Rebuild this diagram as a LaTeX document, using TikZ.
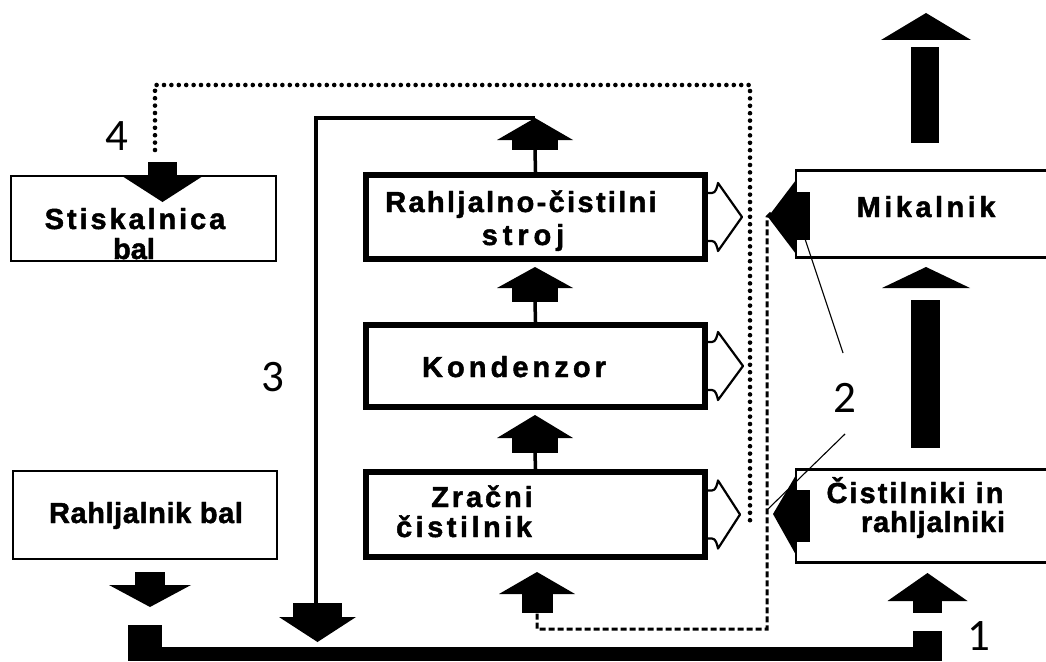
\documentclass[tikz,border=0pt]{standalone}
\usepackage{fontspec}
\setmainfont{Liberation Sans}[BoldFeatures={FakeBold=1.6}]
\newfontfamily\numfont{Carlito}
\newcommand\spaced[2]{{\addfontfeatures{LetterSpace=#1}#2}}
% up-pointing flow arrow: centre x, apex y, head half width, head base y, block half width, block bottom y
\newcommand\flowup[6]{%
  \fill (#1,#2) -- (#1+#3,#4) -- (#1-#3,#4) -- cycle;
  \fill (#1-#5,#4) rectangle (#1+#5,#6);}
% down-pointing flow arrow: centre x, block top y, block half width, head base y, head half width, apex y
\newcommand\flowdown[6]{%
  \fill (#1-#3,#2) rectangle (#1+#3,#4);
  \fill (#1-#5,#4) -- (#1+#5,#4) -- (#1,#6) -- cycle;}
% open outlet on the right side of a machine: centre y, tip x
\newcommand\outlet[2]{%
  \draw[outlet] (708,#1-24) -- (712,#1-24) .. controls (716,#1-24) and (717,#1-30) .. (718,#1-34)
    -- (#2,#1) -- (718,#1+34) .. controls (717,#1+30) and (716,#1+24) .. (712,#1+24) -- (708,#1+24);}
\begin{document}
\begin{tikzpicture}[x=1pt,y=-1pt,
  thinbox/.style={draw,line width=2.8pt,inner sep=0pt},
  thickbox/.style={draw,line width=6pt,inner sep=0pt},
  boxtext/.style={font=\bfseries\fontsize{29}{30}\selectfont,anchor=base,inner sep=0pt},
  numlabel/.style={font=\numfont\fontsize{45}{45}\selectfont,inner sep=0pt},
  feed/.style={line width=4pt},
  stem/.style={line width=3.5pt},
  outlet/.style={line width=2.2pt,line join=round},
  recycle/.style={line width=4.6pt,dash pattern=on 0pt off 7.4pt,line cap=round},
  waste/.style={line width=3pt,dash pattern=on 6pt off 3pt},
  leader/.style={line width=1.1pt}]
\useasboundingbox (0,0) rectangle (1046,661);

% machines
\node[thinbox,minimum width=265pt,minimum height=85pt] (press) at (143.5,218.5) {};
\node[thinbox,minimum width=264pt,minimum height=88pt] (opener) at (145,515) {};
\node[thickbox,minimum width=339pt,minimum height=84pt] (fine) at (535.5,217) {};
\node[thickbox,minimum width=339pt,minimum height=82pt] (cond) at (535.5,366) {};
\node[thickbox,minimum width=339pt,minimum height=85pt] (air) at (535.5,514.5) {};
\node[thinbox,minimum width=256pt,minimum height=87pt] (card) at (924,214) {};
\node[thinbox,minimum width=252pt,minimum height=93pt] (clean) at (922,516) {};

% machine names
\node[boxtext] (pressA) at (135,229) {\spaced{10}{Stiskalnica}};
\node[boxtext] (pressB) at (134,259) {bal};
\node[boxtext] (fineA) at (521,212) {\spaced{8}{Rahljalno-čistilni}};
\node[boxtext] (fineB) at (523,245) {\spaced{17}{stroj}};
\node[boxtext] (condA) at (514,377) {\spaced{14}{Kondenzor}};
\node[boxtext] (airA) at (482,507) {\spaced{10}{Zračni}};
\node[boxtext] (airB) at (464,537) {\spaced{12}{čistilnik}};
\node[boxtext] (openerA) at (146,523) {\spaced{2}{Rahljalnik bal}};
\node[boxtext] (cardA) at (926,217) {\spaced{12}{Mikalnik}};
\node[boxtext] (cleanA) at (915,503) {\spaced{7}{Čistilniki in}};
\node[boxtext] (cleanB) at (933,532) {\spaced{3}{rahljalniki}};

% recycled fibre (dotted) and waste (dashed) lines
\coordinate (recStart) at (155,150);
\coordinate (recEnd) at (750,521);
\draw[recycle] (recStart) |- (750,85) -- (recEnd);
\coordinate (wasteTop) at (767,217);
\coordinate (airIn) at (537,613);
\draw[waste] (771,213) -- (wasteTop) -- (767,629) -| (airIn);

% outlets of the central line
\outlet{217}{742}
\outlet{366}{743}
\outlet{514.5}{740}

% flow arrows through the central line
\flowup{535}{118}{38}{140}{23}{150}
\flowup{535}{267}{38}{288}{23}{302}
\flowup{535}{415}{38}{438}{23}{453}
\flowup{537}{572}{38}{594}{15.5}{613}
\draw[stem] (535,150) -- (fine.north);
\draw[stem] (535,302) -- (cond.north);
\draw[stem] (535,453) -- (air.north);

% return line 3
\coordinate (retTop) at (535,118);
\coordinate (retBottom) at (316,603);
\draw[feed] (retBottom) |- (retTop);
\flowdown{317.5}{603}{24.5}{617}{38.5}{642}

% feed into the press
\flowdown{162.5}{162}{14.5}{175}{42}{202}

% right line
\fill (926,13) -- (971,40) -- (881,40) -- cycle;
\fill (911,47) rectangle (939,143);
\fill (926,267) -- (970,288) -- (882,288) -- cycle;
\fill (911,300) rectangle (940,448);
\flowup{927.5}{573}{40}{601}{14.5}{613}

% delivery into the cards and cleaners
\fill (768,217) -- (796,180) -- (796,254) -- cycle;
\fill (796,192) rectangle (810,240);
\fill (773,514) -- (796,475) -- (796,555) -- cycle;
\fill (796,490) rectangle (810,542);

% below the bale opener
\flowdown{150}{572}{15}{585}{41}{607}

% main transport line 1
\fill (128,625) rectangle (162,661);
\fill (128,647) rectangle (942,661);
\fill (913,631) rectangle (942,661);

% leaders to label 2
\node[numlabel] (n2) at (845,398) {2};
\draw[leader] (803,233) -- (843,353);
\draw[leader] (768,509) -- (845,434);

% numbers
\node[numlabel] (n1) at (979,636) {1};
\node[numlabel] (n3) at (273,377) {3};
\node[numlabel] (n4) at (117,136) {4};
\end{tikzpicture}
\end{document}
